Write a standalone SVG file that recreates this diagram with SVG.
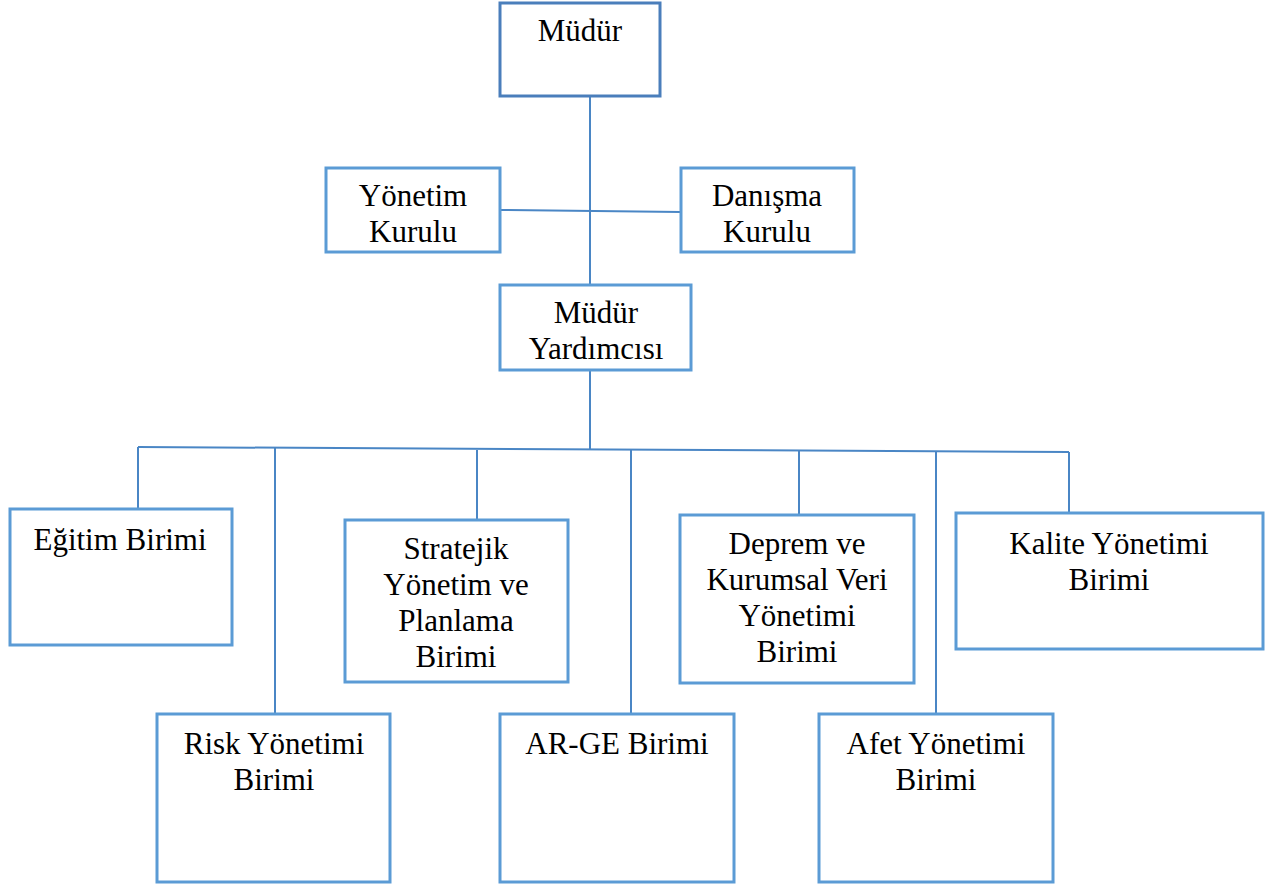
<svg xmlns="http://www.w3.org/2000/svg" width="1277" height="889" viewBox="0 0 1277 889">
<style>
.box{fill:#fff;stroke:#5B9BD5;stroke-width:3}
.ln{fill:none;stroke:#4A86C5;stroke-width:2}
.t{font-family:"Liberation Serif","Times New Roman",serif;font-size:31px;fill:#000;text-anchor:middle}
</style>
<rect width="1277" height="889" fill="#fff"/>
<g id="connectors">
<line class="ln" x1="590" y1="96" x2="590" y2="285"/>
<line class="ln" x1="500" y1="210" x2="681" y2="212" stroke-width="1.5"/>
<line class="ln" x1="590" y1="370" x2="590" y2="449"/>
<line class="ln" x1="138" y1="447" x2="1069" y2="452"/>
<line class="ln" x1="138" y1="447" x2="138" y2="509"/>
<line class="ln" x1="275" y1="448" x2="275" y2="714"/>
<line class="ln" x1="477" y1="450" x2="477" y2="520"/>
<line class="ln" x1="631" y1="450" x2="631" y2="714"/>
<line class="ln" x1="799" y1="451" x2="799" y2="515"/>
<line class="ln" x1="936" y1="451" x2="936" y2="714"/>
<line class="ln" x1="1069" y1="452" x2="1069" y2="513"/>
</g>
<g id="mudur"><rect class="box" x="500" y="3" width="160" height="93" style="stroke:#4A7EBB"/><text class="t" x="580" y="41">Müdür</text></g>
<g id="yonetim"><rect class="box" x="326" y="168" width="174" height="84"/><text class="t" x="413" y="206">Yönetim</text><text class="t" x="413" y="242">Kurulu</text></g>
<g id="danisma"><rect class="box" x="681" y="168" width="173" height="84"/><text class="t" x="767" y="206">Danışma</text><text class="t" x="767" y="242">Kurulu</text></g>
<g id="yardimci"><rect class="box" x="500" y="285" width="191" height="85"/><text class="t" x="596" y="323">Müdür</text><text class="t" x="596" y="359">Yardımcısı</text></g>
<g id="egitim"><rect class="box" x="10" y="509" width="222" height="136"/><text class="t" x="120" y="550">Eğitim Birimi</text></g>
<g id="stratejik"><rect class="box" x="345" y="520" width="223" height="162"/><text class="t" x="456" y="559">Stratejik</text><text class="t" x="456" y="595">Yönetim ve</text><text class="t" x="456" y="631">Planlama</text><text class="t" x="456" y="667">Birimi</text></g>
<g id="deprem"><rect class="box" x="680" y="515" width="234" height="168"/><text class="t" x="797" y="554">Deprem ve</text><text class="t" x="797" y="590">Kurumsal Veri</text><text class="t" x="797" y="626">Yönetimi</text><text class="t" x="797" y="662">Birimi</text></g>
<g id="kalite"><rect class="box" x="956" y="513" width="307" height="136"/><text class="t" x="1109" y="554">Kalite Yönetimi</text><text class="t" x="1109" y="590">Birimi</text></g>
<g id="risk"><rect class="box" x="157" y="714" width="233" height="168"/><text class="t" x="274" y="754">Risk Yönetimi</text><text class="t" x="274" y="790">Birimi</text></g>
<g id="arge"><rect class="box" x="500" y="714" width="234" height="168"/><text class="t" x="617" y="754">AR-GE Birimi</text></g>
<g id="afet"><rect class="box" x="819" y="714" width="234" height="168"/><text class="t" x="936" y="754">Afet Yönetimi</text><text class="t" x="936" y="790">Birimi</text></g>
</svg>
